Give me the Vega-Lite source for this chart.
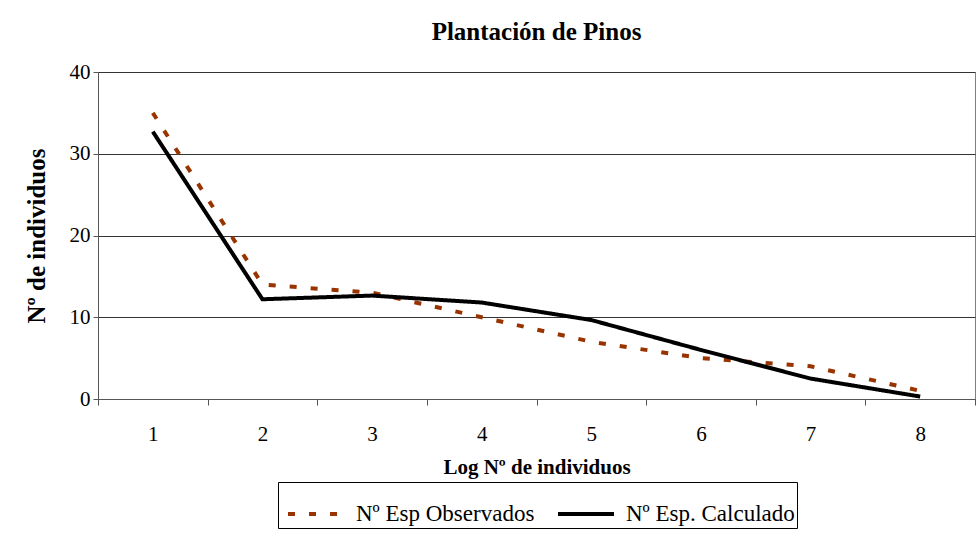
{
  "$schema": "https://vega.github.io/schema/vega-lite/v6.json",
  "description": "Plantación de Pinos: observed vs calculated number of species.",
  "width": 877,
  "height": 327,
  "autosize": "none",
  "padding": {"left": 98, "top": 72, "right": 4, "bottom": 134},
  "background": "white",
  "title": {
    "text": "Plantación de Pinos",
    "font": "Times New Roman, Liberation Serif, serif",
    "fontSize": 25,
    "fontWeight": "bold",
    "color": "black",
    "offset": 16
  },
  "data": {
    "values": [
      {"x": 1, "serie": "Nº Esp Observados", "valor": 35},
      {"x": 2, "serie": "Nº Esp Observados", "valor": 14},
      {"x": 3, "serie": "Nº Esp Observados", "valor": 13},
      {"x": 4, "serie": "Nº Esp Observados", "valor": 10},
      {"x": 5, "serie": "Nº Esp Observados", "valor": 7},
      {"x": 6, "serie": "Nº Esp Observados", "valor": 5},
      {"x": 7, "serie": "Nº Esp Observados", "valor": 4},
      {"x": 8, "serie": "Nº Esp Observados", "valor": 1},
      {"x": 1, "serie": "Nº Esp. Calculado", "valor": 32.7},
      {"x": 2, "serie": "Nº Esp. Calculado", "valor": 12.2},
      {"x": 3, "serie": "Nº Esp. Calculado", "valor": 12.65},
      {"x": 4, "serie": "Nº Esp. Calculado", "valor": 11.8},
      {"x": 5, "serie": "Nº Esp. Calculado", "valor": 9.66},
      {"x": 6, "serie": "Nº Esp. Calculado", "valor": 6.0},
      {"x": 7, "serie": "Nº Esp. Calculado", "valor": 2.5},
      {"x": 8, "serie": "Nº Esp. Calculado", "valor": 0.3}
    ]
  },
  "mark": {"type": "line", "strokeWidth": 4, "strokeCap": "butt"},
  "encoding": {
    "x": {
      "field": "x",
      "type": "ordinal",
      "bandPosition": 0.5,
      "scale": {"type": "band", "paddingInner": 0, "paddingOuter": 0},
      "axis": {
        "title": "Log Nº de individuos",
        "titleFont": "Times New Roman, Liberation Serif, serif",
        "titleFontSize": 21,
        "titleFontWeight": "bold",
        "titleColor": "black",
        "titlePadding": 12,
        "labelFont": "Times New Roman, Liberation Serif, serif",
        "labelFontSize": 21,
        "labelColor": "black",
        "labelAngle": 0,
        "labelPadding": 18,
        "tickBand": "extent",
        "tickSize": 6,
        "tickColor": "#555555",
        "domainColor": "#555555",
        "grid": false
      }
    },
    "y": {
      "field": "valor",
      "type": "quantitative",
      "scale": {"domain": [0, 40], "nice": false},
      "axis": {
        "values": [0, 10, 20, 30, 40],
        "title": "Nº de individuos",
        "titleFont": "Times New Roman, Liberation Serif, serif",
        "titleFontSize": 25,
        "titleFontWeight": "bold",
        "titleColor": "black",
        "titlePadding": 20,
        "labelFont": "Times New Roman, Liberation Serif, serif",
        "labelFontSize": 21,
        "labelColor": "black",
        "labelPadding": 3,
        "tickSize": 5,
        "tickColor": "#555555",
        "domainColor": "#555555",
        "grid": true,
        "gridColor": "#333333",
        "gridWidth": 1
      }
    },
    "color": {
      "field": "serie",
      "type": "nominal",
      "scale": {
        "domain": ["Nº Esp Observados", "Nº Esp. Calculado"],
        "range": ["#993300", "#000000"]
      },
      "legend": {
        "title": null,
        "orient": "none",
        "legendX": 180,
        "legendY": 410,
        "direction": "horizontal",
        "strokeColor": "black",
        "fillColor": "white",
        "padding": 2,
        "symbolType": "stroke",
        "symbolSize": 3136,
        "symbolStrokeWidth": 4,
        "symbolOffset": 6,
        "labelFont": "Times New Roman, Liberation Serif, serif",
        "labelFontSize": 23,
        "labelColor": "black",
        "labelOffset": 10,
        "labelLimit": 300,
        "columnPadding": 15
      }
    },
    "strokeDash": {
      "field": "serie",
      "type": "nominal",
      "scale": {
        "domain": ["Nº Esp Observados", "Nº Esp. Calculado"],
        "range": [[7, 14], [1, 0]]
      },
      "legend": {
        "title": null,
        "orient": "none",
        "legendX": 180,
        "legendY": 410,
        "direction": "horizontal",
        "strokeColor": "black",
        "fillColor": "white",
        "padding": 2,
        "symbolType": "stroke",
        "symbolSize": 3136,
        "symbolStrokeWidth": 4,
        "symbolOffset": 6,
        "labelFont": "Times New Roman, Liberation Serif, serif",
        "labelFontSize": 23,
        "labelColor": "black",
        "labelOffset": 10,
        "labelLimit": 300,
        "columnPadding": 15
      }
    }
  },
  "config": {
    "view": {"stroke": "#808080", "strokeWidth": 1}
  }
}
